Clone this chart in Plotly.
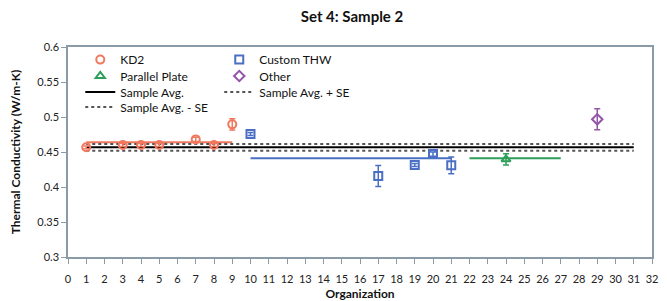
import plotly.graph_objects as go

# ---- data ----
kd2_x = [1, 3, 4, 5, 7, 8, 9]
kd2_y = [0.4567, 0.460, 0.460, 0.460, 0.468, 0.460, 0.4895]
kd2_err = [0.002, 0.002, 0.002, 0.002, 0.003, 0.002, 0.008]

thw_x = [10, 17, 19, 20, 21]
thw_y = [0.4757, 0.4157, 0.4314, 0.4471, 0.431]
thw_err = [0.002, 0.015, 0.002, 0.003, 0.012]

pp_x = [24]
pp_y = [0.4396]
pp_err = [0.008]

oth_x = [29]
oth_y = [0.4967]
oth_err = [0.015]

kd2_mean_x = [1, 9]
kd2_mean = 0.464
thw_mean_x = [10, 21]
thw_mean = 0.441
pp_mean_x = [22, 27]
pp_mean = 0.441

avg_x = [1, 31]
sample_avg = 0.4567
sample_se = 0.0048

x_ticks = list(range(0, 33))
y_ticks = [0.3, 0.35, 0.4, 0.45, 0.5, 0.55, 0.6]

C_KD2 = "#f0785e"
C_THW = "#4a6fc4"
C_PP = "#2e9e5b"
C_OTH = "#9356a8"
C_DOT = "#555555"

FONT = "Lato"

fig = go.Figure()

# group mean lines (not in legend)
fig.add_trace(go.Scatter(x=kd2_mean_x, y=[kd2_mean] * 2, mode="lines",
                         line=dict(color=C_KD2, width=2), showlegend=False, hoverinfo="skip"))
fig.add_trace(go.Scatter(x=thw_mean_x, y=[thw_mean] * 2, mode="lines",
                         line=dict(color=C_THW, width=2), showlegend=False, hoverinfo="skip"))
fig.add_trace(go.Scatter(x=pp_mean_x, y=[pp_mean] * 2, mode="lines",
                         line=dict(color=C_PP, width=2), showlegend=False, hoverinfo="skip"))

# sample average lines
fig.add_trace(go.Scatter(x=avg_x, y=[sample_avg] * 2, mode="lines", name="Sample Avg.",
                         line=dict(color="black", width=2), legend="legend3", legendrank=1))
fig.add_trace(go.Scatter(x=avg_x, y=[sample_avg + sample_se] * 2, mode="lines", name="Sample Avg. + SE",
                         line=dict(color=C_DOT, width=2, dash="dot"), legend="legend3", legendrank=2))
fig.add_trace(go.Scatter(x=avg_x, y=[sample_avg - sample_se] * 2, mode="lines", name="Sample Avg. - SE",
                         line=dict(color=C_DOT, width=2, dash="dot"), legend="legend4", legendrank=1))

def pts(x, y, err, name, color, symbol, leg, rank):
    fig.add_trace(go.Scatter(
        x=x, y=y, mode="markers", name=name,
        marker=dict(symbol=symbol, size=8, color=color, line=dict(color=color, width=2)),
        error_y=dict(type="data", array=err, visible=True, color=color, thickness=1.5, width=3),
        legend=leg, legendrank=rank))

pts(kd2_x, kd2_y, kd2_err, "KD2", C_KD2, "circle-open", "legend", 1)
pts(thw_x, thw_y, thw_err, "Custom THW", C_THW, "square-open", "legend", 2)
pts(pp_x, pp_y, pp_err, "Parallel Plate", C_PP, "triangle-up-open", "legend2", 1)
pts(oth_x, oth_y, oth_err, "Other", C_OTH, "diamond-open", "legend2", 2)

leg_common = dict(bgcolor="rgba(0,0,0,0)", font=dict(family=FONT, size=12, color="#111"),
                  orientation="h", entrywidth=94, entrywidthmode="pixels",
                  yanchor="middle", xanchor="left", itemwidth=30, x=0.021)

row_y = [0.940, 0.8619, 0.7857, 0.7143]

fig.update_layout(
    width=667, height=301,
    margin=dict(l=68, r=15, t=47, b=44, autoexpand=False),
    paper_bgcolor="white", plot_bgcolor="white",
    title=dict(text="<b>Set 4: Sample 2</b>", x=352 / 667, xanchor="center",
               y=1 - 17 / 301, yanchor="middle", font=dict(family=FONT, size=15, color="#111")),
    font=dict(family=FONT, size=11, color="#222"),
    legend=dict(y=row_y[0], **leg_common),
    legend2=dict(y=row_y[1], **leg_common),
    legend3=dict(y=row_y[2], **leg_common),
    legend4=dict(y=row_y[3], **leg_common),
    xaxis=dict(range=[0, 32], tickvals=x_ticks, ticktext=[str(v) for v in x_ticks],
               showgrid=False, zeroline=False, showline=True, linecolor="#8a9aa6", linewidth=1.5,
               mirror=True, ticks="outside", ticklen=5, tickcolor="#8a9aa6", automargin=False,
               ticklabelstandoff=6,
               title=dict(text="<b>Organization</b>", font=dict(family=FONT, size=12, color="#111"),
                          standoff=8),
               tickfont=dict(family=FONT, size=11, color="#222")),
    yaxis=dict(range=[0.3, 0.6], tickvals=y_ticks, ticktext=[f"{v:g}" for v in y_ticks],
               showgrid=False, zeroline=False, showline=True, linecolor="#8a9aa6", linewidth=1.5,
               mirror=True, ticks="outside", ticklen=5, tickcolor="#8a9aa6", automargin=False,
               title=dict(text="<b>Thermal Conductivity (W/m-K)</b>",
                          font=dict(family=FONT, size=12, color="#111"), standoff=14),
               tickfont=dict(family=FONT, size=11, color="#222")),
)

fig.write_html("out.html", config={"displayModeBar": False},
               post_script="document.body.style.margin='0px';")
